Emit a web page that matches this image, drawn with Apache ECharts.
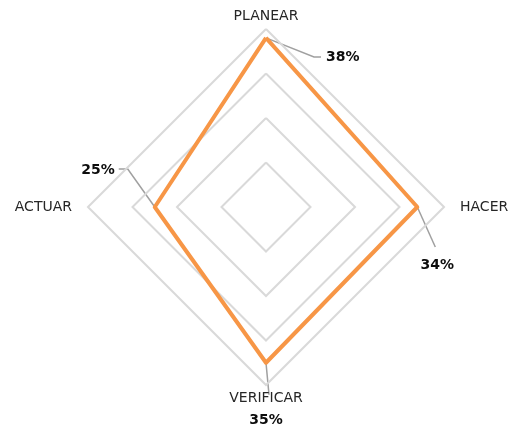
<!DOCTYPE html>
<html><head><meta charset="utf-8">
<script src="https://cdn.jsdelivr.net/npm/echarts@6/dist/echarts.min.js"></script>
<style>html,body{margin:0;padding:0;background:#fff}#c{width:512px;height:428px}</style>
</head><body><div id="c"></div>
<script>
// ---- data ----
const indicators = ['PLANEAR', 'HACER', 'VERIFICAR', 'ACTUAR']; // clockwise from top
const values = [0.38, 0.34, 0.35, 0.25];
const labelTexts = ['38%', '34%', '35%', '25%'];
const axisMin = 0;
const axisMax = 0.4;
const splitCount = 4;
const indicatorAngles = [0, 90, 180, 270]; // degrees clockwise from top

// ---- layout / style ----
const CENTER = [266, 207];
const RADIUS = 178;
const ORANGE = '#F79646';
const TEXT = '#262626';
// ECharts radar places indicators counterclockwise; reorder so the picture reads clockwise
const order = [0, 3, 2, 1];

const chart = echarts.init(document.getElementById('c'), null, { renderer: 'canvas' });

chart.setOption({
  animation: false,
  backgroundColor: '#ffffff',
  radar: {
    center: CENTER,
    radius: RADIUS,
    startAngle: 90,
    shape: 'polygon',
    splitNumber: splitCount,
    nameGap: 6,
    indicator: order.map(i => ({ name: indicators[i], min: axisMin, max: axisMax })),
    axisName: {
      color: TEXT, fontSize: 14, fontFamily: 'DejaVu Sans',
      formatter: (name) => (name === 'HACER' || name === 'ACTUAR') ? '{h|' + name + '}' : '{v|' + name + '}',
      rich: {
        h: { color: TEXT, fontSize: 14, fontFamily: 'DejaVu Sans', padding: [0, 10, 0, 10] },
        v: { color: TEXT, fontSize: 14, fontFamily: 'DejaVu Sans' }
      }
    },
    splitLine: { lineStyle: { color: '#d9d9d9', width: 2 } },
    splitArea: { show: false },
    axisLine: { show: false },
    axisTick: { show: false },
    axisLabel: { show: false }
  },
  polar: { center: CENTER, radius: RADIUS },
  angleAxis: { type: 'value', min: 0, max: 360, startAngle: 90, clockwise: true, show: false },
  radiusAxis: { type: 'value', min: axisMin, max: axisMax, show: false },
  series: [{
    type: 'radar',
    symbol: 'none',
    z: 3,
    lineStyle: { color: ORANGE, width: 4 },
    itemStyle: { color: ORANGE },
    data: [{ value: order.map(i => values[i]) }]
  }]
});

// leader lines and value labels, anchored to each vertex found through the polar scale
const leader = [
  { pts: [[48, 19], [55, 19]], text: [60, 19], align: 'left' },
  { pts: [[18, 40]], text: [20, 58], align: 'center' },
  { pts: [[3, 32]], text: [0, 58], align: 'center' },
  { pts: [[-27, -38], [-36, -38]], text: [-40, -37], align: 'right' }
];

const graphics = [];
values.forEach((v, i) => {
  let p;
  try {
    p = chart.convertToPixel({ polarIndex: 0 }, [v, indicatorAngles[i]]);
  } catch (e) { p = null; }
  if (!p) {
    const a = indicatorAngles[i] * Math.PI / 180;
    const r = (v - axisMin) / (axisMax - axisMin) * RADIUS;
    p = [CENTER[0] + r * Math.sin(a), CENTER[1] - r * Math.cos(a)];
  }
  const L = leader[i];
  const pts = [[p[0], p[1]]].concat(L.pts.map(d => [p[0] + d[0], p[1] + d[1]]));
  graphics.push({
    type: 'polyline', z: -1, silent: true,
    shape: { points: pts },
    style: { stroke: '#a0a0a0', lineWidth: 1.5, fill: null }
  });
  graphics.push({
    type: 'text', z: 5, silent: true,
    x: p[0] + L.text[0], y: p[1] + L.text[1],
    style: {
      text: labelTexts[i], fill: '#0d0d0d', font: 'bold 14px "DejaVu Sans"',
      align: L.align, verticalAlign: 'middle'
    }
  });
});
chart.setOption({ graphic: graphics });
</script>
</body></html>
